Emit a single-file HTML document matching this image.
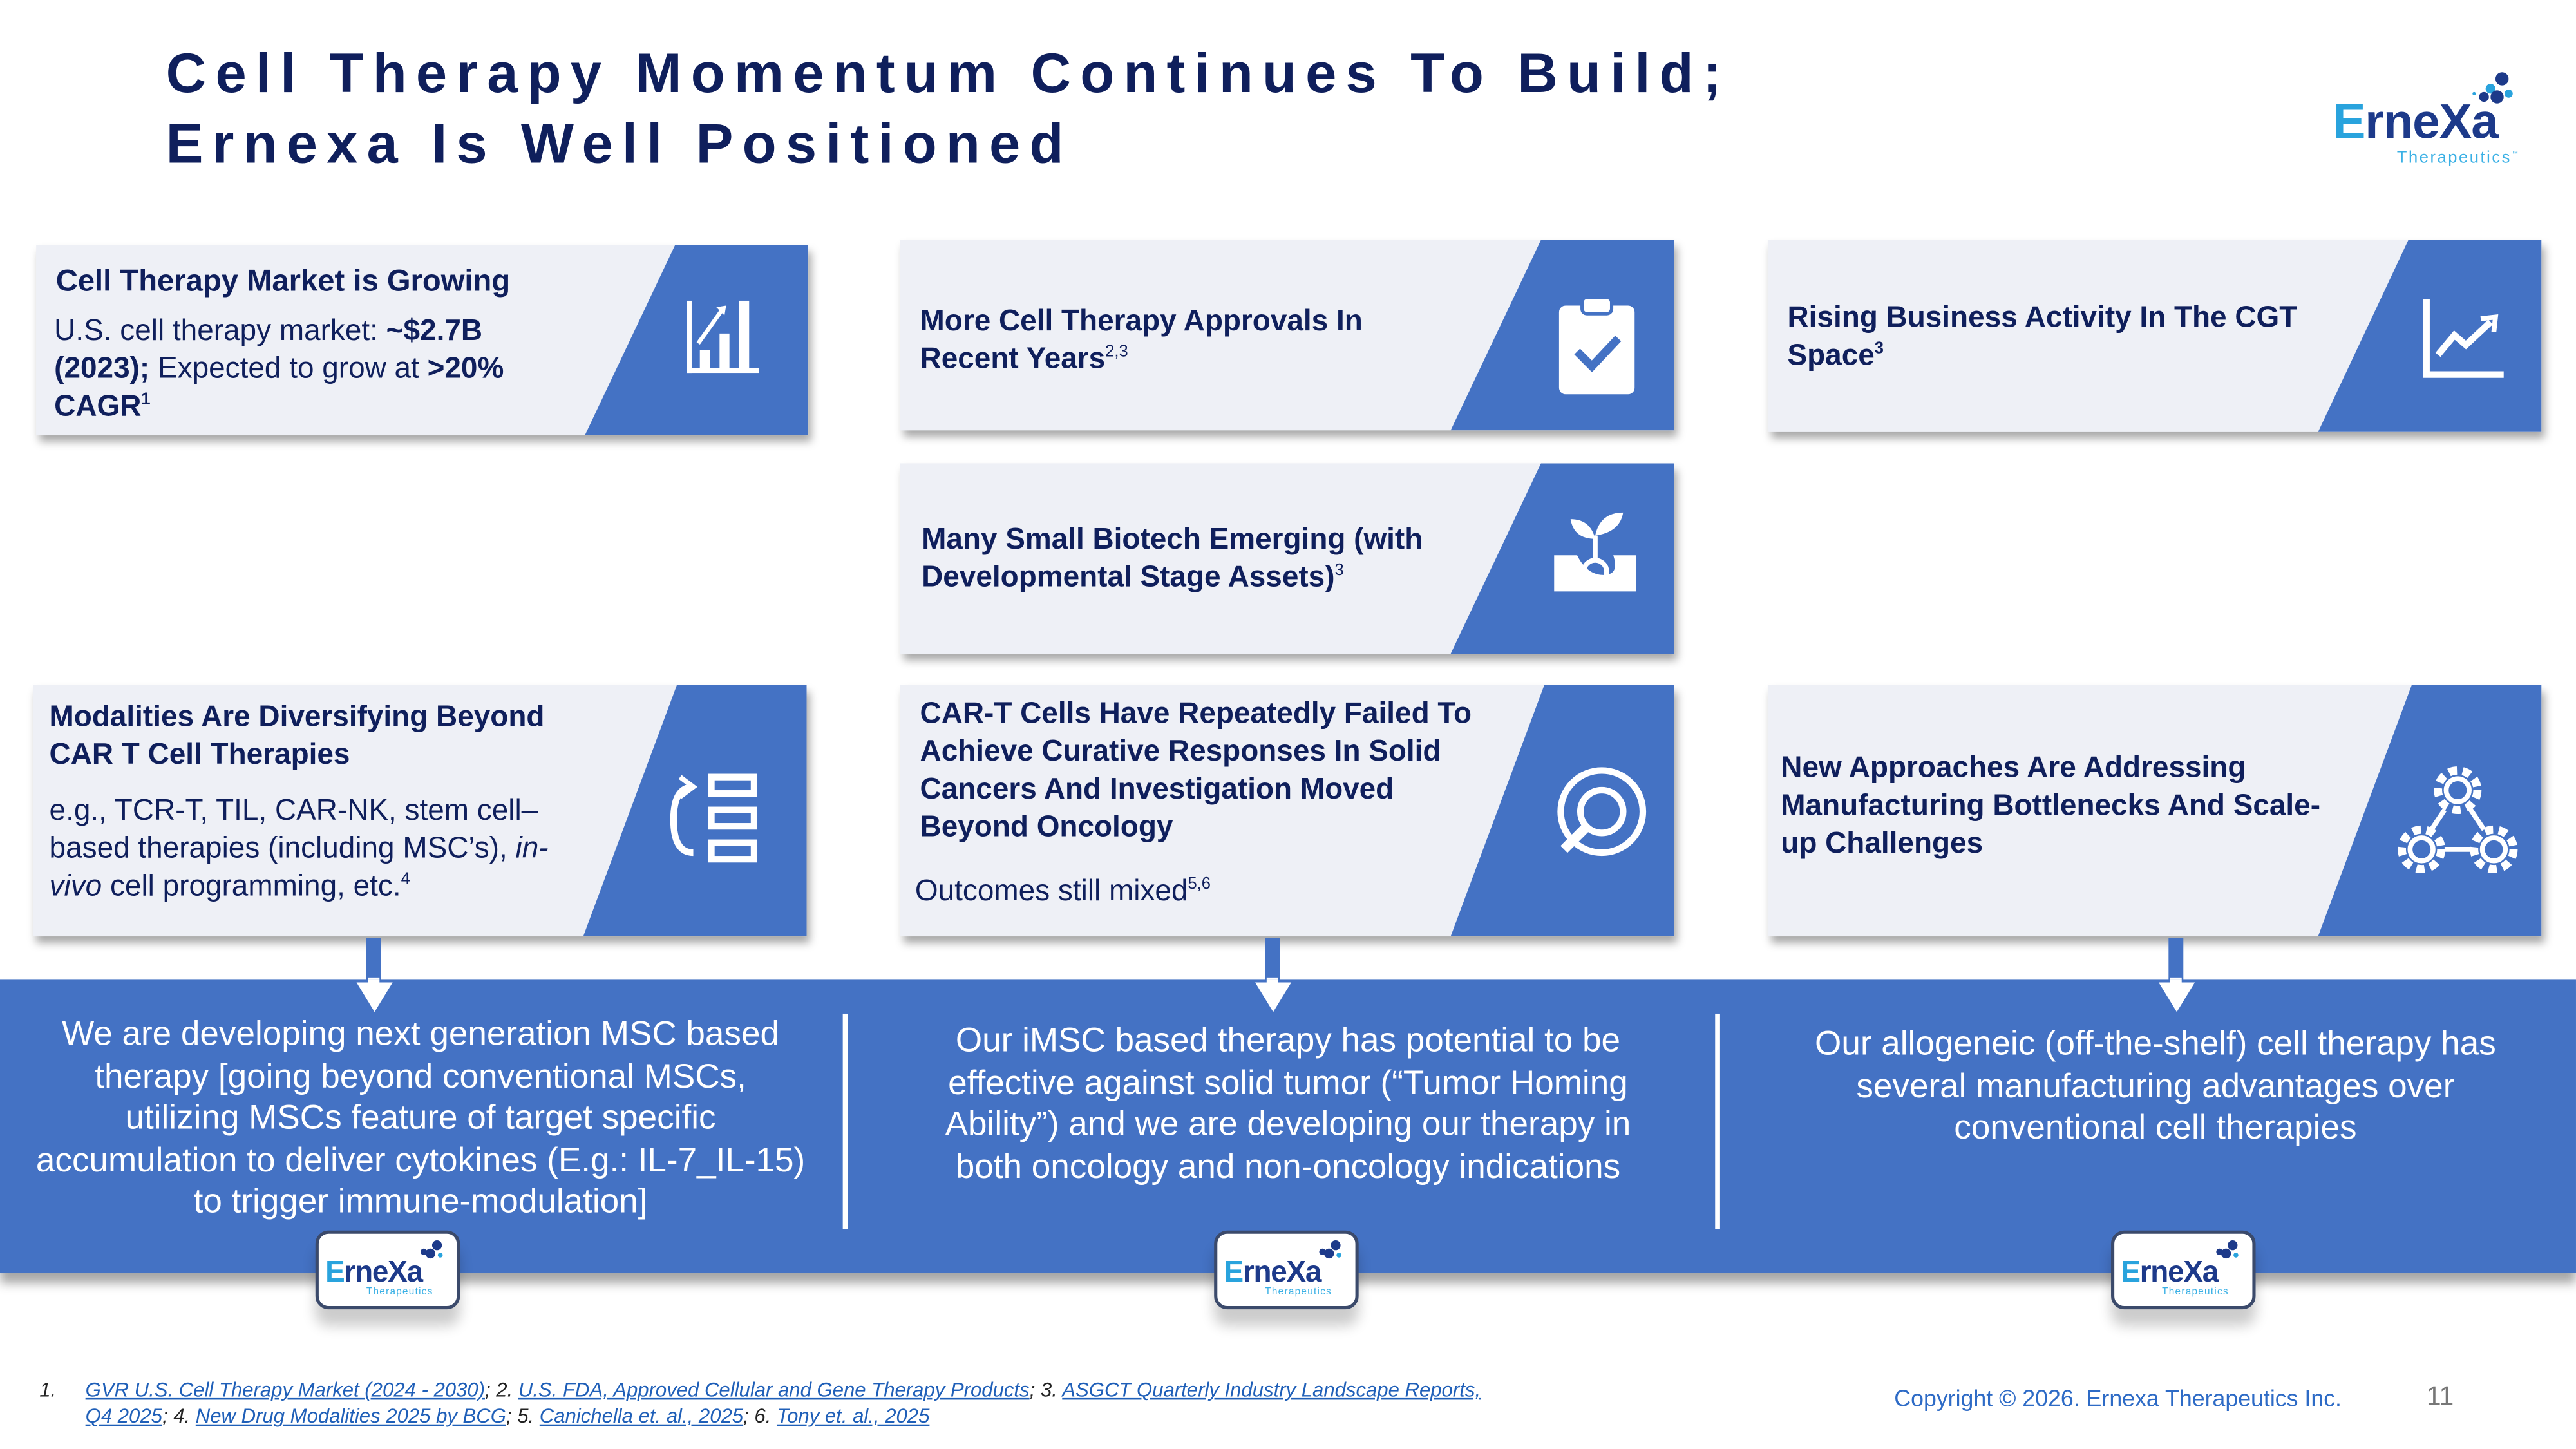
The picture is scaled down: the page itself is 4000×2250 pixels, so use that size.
<!DOCTYPE html>
<html><head><meta charset="utf-8">
<style>
html,body{margin:0;padding:0;background:#fff;}
body{width:4000px;height:2250px;overflow:hidden;}
#s{position:absolute;left:0;top:0;width:1568px;height:882px;transform:scale(2.5510);transform-origin:0 0;font-family:"Liberation Sans",sans-serif;color:#0f1f5c;}
.t{position:absolute;left:101px;font-size:34px;font-weight:bold;letter-spacing:5.55px;color:#0f1f5c;}
.card{position:absolute;background:#eef0f6;box-shadow:2px 4px 5px rgba(0,0,0,0.35);overflow:hidden;}
.card .bl{position:absolute;top:0;bottom:0;right:0;background:#4472c4;}
.card .tx{position:absolute;font-size:18px;line-height:23px;color:#0f1f5c;}
sup{line-height:0;}
.b{font-weight:bold;}
.card svg{position:absolute;}
#band{position:absolute;left:0;top:596px;width:1568px;height:179px;background:#4472c4;box-shadow:0 6px 6px rgba(0,0,0,0.35);}
.bt{position:absolute;color:#fff;font-size:20.8px;line-height:25.5px;text-align:center;}
.div{position:absolute;top:617px;width:3px;height:131px;background:#fff;}
.logo{position:absolute;width:84px;height:44px;background:#fff;border:2px solid #3b4a6b;border-radius:8px;box-shadow:0 10px 8px rgba(0,0,0,0.2);}
.arr{position:absolute;}
.fn{position:absolute;font-size:12.2px;font-style:italic;line-height:16px;color:#222;}
.fn a{color:#1f5fb8;text-decoration:underline;}
</style></head><body><div id="s">
<div class="t" style="top:26px">Cell Therapy Momentum Continues To Build;</div>
<div class="t" style="top:69px">Ernexa Is Well Positioned</div>

<div style="position:absolute;left:1420px;top:58px;font-size:30px;font-weight:bold;color:#1d3a8a;letter-spacing:-0.5px"><span style="color:#29a3dd">E</span>rne<span style="color:#1d3a8a">X</span>a</div>
<div style="position:absolute;left:1459px;top:91px;font-size:10px;color:#3ab0e5;letter-spacing:1px">Therapeutics<sup style="font-size:4px">™</sup></div>
<svg style="position:absolute;left:1500px;top:42px" width="35" height="25"><circle cx="23" cy="6" r="4" fill="#1d3a8a"/><circle cx="16" cy="12" r="3" fill="#29a3dd"/><circle cx="20" cy="17" r="4" fill="#1d3a8a"/><circle cx="12" cy="17" r="3" fill="#1d3a8a"/><circle cx="27" cy="15" r="2.5" fill="#29a3dd"/><circle cx="6" cy="15" r="1" fill="#29a3dd"/></svg>

<div class="card" style="left:22px;top:149px;width:470px;height:116px">
<div class="bl" style="width:136px;clip-path:polygon(55px 0,100% 0,100% 100%,0 100%)"></div>
<div class="tx b" style="left:12px;top:10px;font-size:18.5px">Cell Therapy Market is Growing</div>
<div class="tx" style="left:11px;top:41px">U.S. cell therapy market: <span class="b">~$2.7B</span><br><span class="b">(2023);</span> Expected to grow at <span class="b">&gt;20%</span><br><span class="b">CAGR<sup style="font-size:10px">1</sup></span></div>
<svg style="left:396px;top:34px" width="46" height="46" fill="#fff"><rect x="0" y="0" width="3" height="44"/><rect x="0" y="41" width="44" height="3"/><rect x="8" y="30" width="6" height="11"/><rect x="20" y="20" width="6" height="21"/><rect x="32" y="0" width="6" height="41"/><path d="M7 26 L22 5" stroke="#fff" stroke-width="2.5"/><path d="M18 4 L24 3 L23 9Z"/></svg>
</div>

<div class="card" style="left:548px;top:146px;width:471px;height:116px">
<div class="bl" style="width:136px;clip-path:polygon(55px 0,100% 0,100% 100%,0 100%)"></div>
<div class="tx b" style="left:12px;top:38px">More Cell Therapy Approvals In<br>Recent Years<sup style="font-size:10px;font-weight:normal">2,3</sup></div>
<svg style="left:398px;top:34px" width="52" height="62"><rect x="3" y="6" width="46" height="54" rx="4" fill="#fff"/><rect x="17" y="1" width="18" height="10" rx="3" fill="#fff" stroke="#4472c4" stroke-width="2"/><path d="M14 34 L23 43 L39 26" stroke="#4472c4" stroke-width="5" fill="none"/></svg>
</div>

<div class="card" style="left:1076px;top:146px;width:471px;height:117px">
<div class="bl" style="width:136px;clip-path:polygon(55px 0,100% 0,100% 100%,0 100%)"></div>
<div class="tx b" style="left:12px;top:36px">Rising Business Activity In The CGT<br>Space<sup style="font-size:10px">3</sup></div>
<svg style="left:398px;top:36px" width="52" height="50" fill="none" stroke="#fff" stroke-width="4"><path d="M3 0 V46 H50"/><path d="M10 34 L20 22 L27 28 L42 14"/><path d="M36 12 L45 11 L44 20" stroke-width="3"/></svg>
</div>

<div class="card" style="left:548px;top:282px;width:471px;height:116px">
<div class="bl" style="width:136px;clip-path:polygon(55px 0,100% 0,100% 100%,0 100%)"></div>
<div class="tx b" style="left:13px;top:35px">Many Small Biotech Emerging (with<br>Developmental Stage Assets)<sup style="font-size:10px;font-weight:normal">3</sup></div>
<svg style="left:396px;top:28px" width="54" height="52"><path d="M2 28 H16 Q22 40 32 40 Q42 40 38 28 H52 V50 H2Z" fill="#fff"/><circle cx="27" cy="38" r="7" fill="none" stroke="#fff" stroke-width="3"/><path d="M27 31 V16" stroke="#fff" stroke-width="3"/><path d="M27 18 Q14 18 12 6 Q24 6 27 18Z" fill="#fff"/><path d="M27 16 Q30 2 44 2 Q42 14 27 16Z" fill="#fff"/></svg>
</div>

<div class="card" style="left:20px;top:417px;width:471px;height:153px">
<div class="bl" style="width:136px;clip-path:polygon(57px 0,100% 0,100% 100%,0 100%)"></div>
<div class="tx b" style="left:10px;top:8px">Modalities Are Diversifying Beyond<br>CAR T Cell Therapies</div>
<div class="tx" style="left:10px;top:65px">e.g., TCR-T, TIL, CAR-NK, stem cell–<br>based therapies (including MSC’s), <i>in-</i><br><i>vivo</i> cell programming, etc.<sup style="font-size:10px">4</sup></div>
<svg style="left:384px;top:54px" width="60" height="58" fill="none" stroke="#fff" stroke-width="4"><rect x="29" y="2" width="26" height="10"/><rect x="29" y="22" width="26" height="10"/><rect x="29" y="42" width="26" height="10"/><path d="M18 8 Q6 8 6 28 Q6 48 18 48"/><path d="M10 2 L18 8 L10 14" stroke-width="3"/></svg>
</div>

<div class="card" style="left:548px;top:417px;width:471px;height:153px">
<div class="bl" style="width:136px;clip-path:polygon(57px 0,100% 0,100% 100%,0 100%)"></div>
<div class="tx b" style="left:12px;top:6px">CAR-T Cells Have Repeatedly Failed To<br>Achieve Curative Responses In Solid<br>Cancers And Investigation Moved<br>Beyond Oncology</div>
<div class="tx" style="left:9px;top:114px">Outcomes still mixed<sup style="font-size:10px">5,6</sup></div>
<svg style="left:396px;top:48px" width="60" height="60" fill="none" stroke="#fff" stroke-width="4"><circle cx="31" cy="29" r="25"/><circle cx="31" cy="29" r="13"/><path d="M22 38 L8 52" stroke-width="6"/></svg>
</div>

<div class="card" style="left:1076px;top:417px;width:471px;height:153px">
<div class="bl" style="width:136px;clip-path:polygon(57px 0,100% 0,100% 100%,0 100%)"></div>
<div class="tx b" style="left:8px;top:39px">New Approaches Are Addressing<br>Manufacturing Bottlenecks And Scale-<br>up Challenges</div>
<svg style="left:382px;top:46px" width="76" height="72" fill="none" stroke="#fff" stroke-width="3"><circle cx="38" cy="18" r="7"/><circle cx="38" cy="18" r="12" stroke-dasharray="5 3.5" stroke-width="5"/><circle cx="16" cy="54" r="7"/><circle cx="16" cy="54" r="12" stroke-dasharray="5 3.5" stroke-width="5"/><circle cx="60" cy="54" r="7"/><circle cx="60" cy="54" r="12" stroke-dasharray="5 3.5" stroke-width="5"/><path d="M30 54 H46"/><path d="M30 30 L22 42 M46 30 L54 42"/></svg>
</div>

<svg class="arr" style="left:215px;top:571px" width="26" height="46"><rect x="8" y="0" width="9" height="28" fill="#4472c4"/><path d="M2 26 H24 L13 44Z" fill="#fff"/><rect x="9" y="24" width="7" height="6" fill="#fff"/></svg>
<svg class="arr" style="left:762px;top:571px" width="26" height="46"><rect x="8" y="0" width="9" height="28" fill="#4472c4"/><path d="M2 26 H24 L13 44Z" fill="#fff"/><rect x="9" y="24" width="7" height="6" fill="#fff"/></svg>
<svg class="arr" style="left:1312px;top:571px" width="26" height="46"><rect x="8" y="0" width="9" height="28" fill="#4472c4"/><path d="M2 26 H24 L13 44Z" fill="#fff"/><rect x="9" y="24" width="7" height="6" fill="#fff"/></svg>

<div id="band"></div>
<svg class="arr" style="left:215px;top:596px" width="26" height="22"><rect x="9" y="0" width="7" height="6" fill="#fff"/><path d="M2 2 H24 L13 20Z" fill="#fff"/></svg>
<svg class="arr" style="left:762px;top:596px" width="26" height="22"><rect x="9" y="0" width="7" height="6" fill="#fff"/><path d="M2 2 H24 L13 20Z" fill="#fff"/></svg>
<svg class="arr" style="left:1312px;top:596px" width="26" height="22"><rect x="9" y="0" width="7" height="6" fill="#fff"/><path d="M2 2 H24 L13 20Z" fill="#fff"/></svg>
<div class="div" style="left:513px"></div>
<div class="div" style="left:1044px"></div>
<div class="bt" style="left:0px;top:617px;width:512px">We are developing next generation MSC based<br>therapy [going beyond conventional MSCs,<br>utilizing MSCs feature of target specific<br>accumulation to deliver cytokines (E.g.: IL-7_IL-15)<br>to trigger immune-modulation]</div>
<div class="bt" style="left:533px;top:621px;width:502px">Our iMSC based therapy has potential to be<br>effective against solid tumor (“Tumor Homing<br>Ability”) and we are developing our therapy in<br>both oncology and non-oncology indications</div>
<div class="bt" style="left:1063px;top:623px;width:498px">Our allogeneic (off-the-shelf) cell therapy has<br>several manufacturing advantages over<br>conventional cell therapies</div>

<div class="logo" style="left:192px;top:749px"><div style="position:absolute;left:4px;top:13px;font-size:18px;font-weight:bold;color:#1d3a8a;letter-spacing:-0.5px"><span style="color:#29a3dd">E</span>rneXa</div><div style="position:absolute;left:29px;top:33px;font-size:6px;color:#3ab0e5;letter-spacing:0.5px">Therapeutics</div><svg style="position:absolute;left:58px;top:3px" width="20" height="14"><circle cx="14" cy="4" r="3" fill="#1d3a8a"/><circle cx="10" cy="9" r="3" fill="#1d3a8a"/><circle cx="6" cy="8" r="2" fill="#1d3a8a"/><circle cx="16" cy="10" r="1.5" fill="#29a3dd"/></svg></div>
<div class="logo" style="left:739px;top:749px"><div style="position:absolute;left:4px;top:13px;font-size:18px;font-weight:bold;color:#1d3a8a;letter-spacing:-0.5px"><span style="color:#29a3dd">E</span>rneXa</div><div style="position:absolute;left:29px;top:33px;font-size:6px;color:#3ab0e5;letter-spacing:0.5px">Therapeutics</div><svg style="position:absolute;left:58px;top:3px" width="20" height="14"><circle cx="14" cy="4" r="3" fill="#1d3a8a"/><circle cx="10" cy="9" r="3" fill="#1d3a8a"/><circle cx="6" cy="8" r="2" fill="#1d3a8a"/><circle cx="16" cy="10" r="1.5" fill="#29a3dd"/></svg></div>
<div class="logo" style="left:1285px;top:749px"><div style="position:absolute;left:4px;top:13px;font-size:18px;font-weight:bold;color:#1d3a8a;letter-spacing:-0.5px"><span style="color:#29a3dd">E</span>rneXa</div><div style="position:absolute;left:29px;top:33px;font-size:6px;color:#3ab0e5;letter-spacing:0.5px">Therapeutics</div><svg style="position:absolute;left:58px;top:3px" width="20" height="14"><circle cx="14" cy="4" r="3" fill="#1d3a8a"/><circle cx="10" cy="9" r="3" fill="#1d3a8a"/><circle cx="6" cy="8" r="2" fill="#1d3a8a"/><circle cx="16" cy="10" r="1.5" fill="#29a3dd"/></svg></div>

<div class="fn" style="left:24px;top:838px">1.</div>
<div class="fn" style="left:52px;top:838px;width:900px"><a>GVR U.S. Cell Therapy Market (2024 - 2030)</a>; 2. <a>U.S. FDA, Approved Cellular and Gene Therapy Products</a>; 3. <a>ASGCT Quarterly Industry Landscape Reports,</a><br><a>Q4 2025</a>; 4. <a>New Drug Modalities 2025 by BCG</a>; 5. <a>Canichella et. al., 2025</a>; 6. <a>Tony et. al., 2025</a></div>
<div style="position:absolute;left:1153px;top:843px;font-size:14px;color:#2e6bc6">Copyright © 2026. Ernexa Therapeutics Inc.</div>
<div style="position:absolute;left:1477px;top:842px;font-size:16px;color:#777">11</div>
</div></body></html>
